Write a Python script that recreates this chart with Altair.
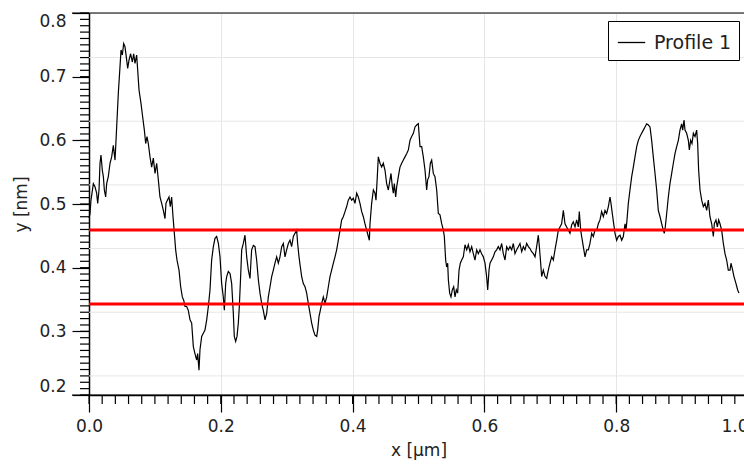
import altair as alt
import pandas as pd

# ---- profile data (x in µm, y in nm) ----
x_um = [0.0, 0.0015, 0.003, 0.0066, 0.0091, 0.0116, 0.0132, 0.0152, 0.0167, 0.0182, 0.0202, 0.0218,
        0.0233, 0.0253, 0.0268, 0.0293, 0.0319, 0.0344, 0.0369, 0.0395, 0.0420, 0.0445, 0.0470, 0.0486,
        0.0506, 0.0526, 0.0546, 0.0572, 0.0587, 0.0607, 0.0632, 0.0658, 0.0678, 0.0698, 0.0723, 0.0739,
        0.0759, 0.0789, 0.0814, 0.0840, 0.0860, 0.0880, 0.0900, 0.0926, 0.0951, 0.0976, 0.1002, 0.1027,
        0.1052, 0.1077, 0.1103, 0.1128, 0.1153, 0.1168, 0.1189, 0.1214, 0.1234, 0.1254, 0.1275, 0.1295,
        0.1315, 0.1335, 0.1366, 0.1391, 0.1416, 0.1437, 0.1457, 0.1482, 0.1507, 0.1533, 0.1558, 0.1583,
        0.1608, 0.1634, 0.1649, 0.1669,
        0.1684, 0.1710, 0.1735, 0.1760, 0.1786, 0.1811, 0.1836, 0.1861, 0.1887, 0.1912, 0.1937, 0.1963,
        0.1988, 0.2013, 0.2038, 0.2054, 0.2074, 0.2089, 0.2114, 0.2140, 0.2165, 0.2190, 0.2205, 0.2226,
        0.2246, 0.2266, 0.2281, 0.2301, 0.2317, 0.2342, 0.2367, 0.2393, 0.2418, 0.2443, 0.2468, 0.2494,
        0.2519, 0.2544, 0.2570, 0.2595, 0.2620, 0.2645, 0.2671, 0.2696, 0.2721, 0.2747, 0.2772, 0.2797,
        0.2822, 0.2848, 0.2873, 0.2898, 0.2924, 0.2949, 0.2974, 0.2999, 0.3025, 0.3050, 0.3075, 0.3101,
        0.3126, 0.3151, 0.3166, 0.3187, 0.3207, 0.3227, 0.3252, 0.3278, 0.3303, 0.3328, 0.3354,
        0.3379, 0.3404, 0.3429, 0.3455, 0.3470, 0.3490, 0.3510, 0.3531, 0.3556, 0.3581, 0.3607, 0.3632,
        0.3657, 0.3682, 0.3708, 0.3733, 0.3758, 0.3783, 0.3809, 0.3834, 0.3859, 0.3885, 0.3910, 0.3935,
        0.3961, 0.3986, 0.4011, 0.4036, 0.4062, 0.4087, 0.4112, 0.4138, 0.4163, 0.4188, 0.4213, 0.4239,
        0.4254, 0.4264, 0.4289, 0.4315, 0.4340, 0.4355, 0.4375, 0.4390, 0.4416, 0.4441, 0.4466, 0.4492,
        0.4517, 0.4542, 0.4567, 0.4583, 0.4603, 0.4618, 0.4633, 0.4654, 0.4669, 0.4694, 0.4719, 0.4745,
        0.4770, 0.4795, 0.4820, 0.4846, 0.4871, 0.4896, 0.4922, 0.4947, 0.4972, 0.4997,
        0.5023, 0.5048, 0.5073, 0.5099, 0.5124, 0.5139, 0.5159, 0.5180, 0.5200, 0.5225, 0.5250, 0.5276,
        0.5301, 0.5326, 0.5352, 0.5377, 0.5392, 0.5412, 0.5427, 0.5443, 0.5453, 0.5473, 0.5493, 0.5513,
        0.5534, 0.5554, 0.5574, 0.5594, 0.5615, 0.5635, 0.5655, 0.5680, 0.5706, 0.5731, 0.5756, 0.5781,
        0.5807, 0.5832, 0.5857, 0.5883, 0.5908, 0.5933, 0.5958, 0.5984, 0.6009, 0.6034, 0.6050, 0.6070,
        0.6085, 0.6110, 0.6135, 0.6161, 0.6186, 0.6211, 0.6237, 0.6262, 0.6287, 0.6313, 0.6338, 0.6363,
        0.6388, 0.6414, 0.6439, 0.6464, 0.6490, 0.6515, 0.6540, 0.6566, 0.6591, 0.6616, 0.6641, 0.6667,
        0.6692, 0.6717, 0.6743, 0.6768, 0.6793, 0.6818, 0.6834, 0.6854, 0.6869, 0.6894, 0.6920, 0.6945,
        0.6970, 0.6995, 0.7021, 0.7046, 0.7071, 0.7097, 0.7122, 0.7147, 0.7172, 0.7198, 0.7223, 0.7248,
        0.7274, 0.7299, 0.7324, 0.7349, 0.7375, 0.7400, 0.7425, 0.7440, 0.7461, 0.7476, 0.7501, 0.7527,
        0.7552, 0.7577, 0.7602, 0.7628, 0.7653, 0.7678, 0.7704, 0.7729, 0.7754, 0.7779, 0.7805, 0.7830,
        0.7855, 0.7881, 0.7906, 0.7921, 0.7941, 0.7962, 0.7982, 0.8007, 0.8032, 0.8058, 0.8083, 0.8108,
        0.8134, 0.8149, 0.8164, 0.8184, 0.8209, 0.8235, 0.8260, 0.8285, 0.8311, 0.8336,
        0.8361, 0.8386, 0.8412, 0.8437, 0.8462, 0.8488, 0.8513, 0.8538, 0.8563, 0.8589, 0.8614, 0.8639,
        0.8665, 0.8690, 0.8715, 0.8730, 0.8745, 0.8766, 0.8791, 0.8816, 0.8842, 0.8867, 0.8892, 0.8918,
        0.8943, 0.8968, 0.8993, 0.9009, 0.9029, 0.9044, 0.9069, 0.9095, 0.9110, 0.9130, 0.9150, 0.9171,
        0.9196, 0.9221, 0.9236, 0.9251, 0.9272, 0.9297, 0.9322, 0.9347, 0.9373, 0.9398, 0.9423, 0.9449,
        0.9474, 0.9489, 0.9514, 0.9535, 0.9555, 0.9575, 0.9600, 0.9626, 0.9651, 0.9676, 0.9701, 0.9727,
        0.9742, 0.9767, 0.9787, 0.9818, 0.9843, 0.9863]

y_nm = [0.478, 0.485, 0.506, 0.532, 0.527, 0.517, 0.501, 0.522, 0.564, 0.577, 0.553, 0.543,
        0.522, 0.511, 0.532, 0.543, 0.564, 0.574, 0.592, 0.569, 0.621, 0.674, 0.715, 0.742,
        0.734, 0.752, 0.747, 0.726, 0.713, 0.726, 0.736, 0.723, 0.736, 0.721, 0.734, 0.710,
        0.679, 0.658, 0.637, 0.616, 0.595, 0.606, 0.595, 0.574, 0.558, 0.572, 0.548, 0.564,
        0.538, 0.511, 0.501, 0.490, 0.477, 0.501, 0.506, 0.511, 0.496, 0.511, 0.480, 0.454,
        0.428, 0.412, 0.396, 0.370, 0.354, 0.349, 0.339, 0.339, 0.333, 0.318, 0.313, 0.276,
        0.265, 0.255, 0.265, 0.239,
        0.271, 0.292, 0.297, 0.302, 0.318, 0.339, 0.365, 0.412, 0.433, 0.446, 0.449, 0.438,
        0.417, 0.375, 0.354, 0.333, 0.375, 0.386, 0.394, 0.391, 0.375, 0.328, 0.292, 0.284,
        0.292, 0.313, 0.339, 0.386, 0.428, 0.438, 0.451, 0.417, 0.396, 0.383, 0.428, 0.435,
        0.433, 0.412, 0.381, 0.360, 0.344, 0.333, 0.318, 0.328, 0.354, 0.370, 0.386, 0.396,
        0.407, 0.417, 0.407, 0.417, 0.433, 0.438, 0.417, 0.428, 0.438, 0.443, 0.433, 0.449,
        0.454, 0.459, 0.438, 0.417, 0.401, 0.386, 0.375, 0.370, 0.360, 0.344, 0.328,
        0.313, 0.302, 0.294, 0.292, 0.302, 0.323, 0.333, 0.344, 0.354, 0.344, 0.354, 0.370,
        0.386, 0.396, 0.407, 0.417, 0.428, 0.443, 0.459, 0.475, 0.480, 0.488, 0.496, 0.506,
        0.511, 0.506, 0.509, 0.501, 0.517, 0.511, 0.501, 0.488, 0.480, 0.469, 0.459, 0.449,
        0.443, 0.469, 0.501, 0.522, 0.517, 0.506, 0.543, 0.574, 0.564, 0.558, 0.564, 0.553,
        0.532, 0.522, 0.538, 0.548, 0.527, 0.517, 0.532, 0.511, 0.527, 0.543, 0.558, 0.564,
        0.569, 0.574, 0.579, 0.585, 0.600, 0.606, 0.611, 0.621, 0.624, 0.626,
        0.590, 0.590, 0.574, 0.553, 0.522, 0.538, 0.543, 0.564, 0.569, 0.548, 0.543, 0.522,
        0.485, 0.483, 0.469, 0.459, 0.449, 0.412, 0.401, 0.407, 0.381, 0.360, 0.354, 0.365,
        0.370, 0.354, 0.365, 0.360, 0.396, 0.407, 0.412, 0.417, 0.436, 0.428, 0.436, 0.425,
        0.433, 0.422, 0.412, 0.428, 0.422, 0.428, 0.422, 0.417, 0.407, 0.386, 0.365, 0.396,
        0.407, 0.412, 0.417, 0.425, 0.428, 0.433, 0.428, 0.438, 0.422, 0.412, 0.433, 0.428,
        0.433, 0.428, 0.438, 0.422, 0.428, 0.433, 0.438, 0.425, 0.433, 0.428, 0.438, 0.433,
        0.430, 0.425, 0.422, 0.417, 0.433, 0.451, 0.433, 0.407, 0.386, 0.396, 0.386, 0.383,
        0.396, 0.407, 0.417, 0.412, 0.428, 0.443, 0.459, 0.464, 0.469, 0.490, 0.469, 0.464,
        0.459, 0.454, 0.467, 0.472, 0.464, 0.475, 0.464, 0.488, 0.459, 0.449, 0.433, 0.417,
        0.428, 0.428, 0.438, 0.454, 0.449, 0.459, 0.459, 0.469, 0.475, 0.488, 0.480, 0.490,
        0.485, 0.496, 0.511, 0.501, 0.485, 0.469, 0.454, 0.443, 0.449, 0.451, 0.443, 0.449,
        0.469, 0.459, 0.475, 0.501, 0.522, 0.543, 0.558, 0.574, 0.590, 0.600,
        0.606, 0.611, 0.616, 0.621, 0.626, 0.624, 0.621, 0.600, 0.574, 0.548, 0.522, 0.490,
        0.480, 0.469, 0.459, 0.454, 0.464, 0.485, 0.511, 0.532, 0.548, 0.564, 0.579, 0.590,
        0.600, 0.616, 0.626, 0.616, 0.632, 0.616, 0.611, 0.600, 0.585, 0.600, 0.595, 0.611,
        0.606, 0.616, 0.595, 0.553, 0.522, 0.506, 0.496, 0.501, 0.490, 0.506, 0.480, 0.469,
        0.449, 0.469, 0.475, 0.464, 0.475, 0.469, 0.459, 0.438, 0.422, 0.412, 0.396, 0.396,
        0.407, 0.396, 0.386, 0.375, 0.365, 0.360]

series_name = ["Profile 1"]
ref_levels = [0.459, 0.343]          # the two red horizontal markers (nm)

x_major = [0.0, 0.2, 0.4, 0.6, 0.8, 1.0]
x_minor = [round(i / 50, 2) for i in range(50)]
y_major = [0.2, 0.3, 0.4, 0.5, 0.6, 0.7, 0.8]
y_minor = [round(0.2 + i / 100, 2) for i in range(61)]
y_grid = [0.23, 0.33, 0.43, 0.53, 0.63, 0.73]
frame_levels = [0.2, 0.8]           # bottom and top frame lines

PLOT_W, PLOT_H = 659, 382

df = pd.DataFrame({"x": x_um, "y": y_nm, "series": series_name * len(x_um)})
df_ref = pd.DataFrame({"level": ref_levels})
df_xminor = pd.DataFrame({"xm": x_minor})
df_yminor = pd.DataFrame({"ym": y_minor})
df_grid = pd.DataFrame({"gy": y_grid})
df_frame = pd.DataFrame({"fy": frame_levels})

FONT = "DejaVu Sans"
TXT = "#222222"
GRID = "#e6e6e6"

xs = alt.Scale(domain=[0.0, 1.0], nice=False, zero=False)
ys = alt.Scale(domain=[0.2, 0.8], nice=False, zero=False)

x_main_axis = alt.Axis(
    orient="bottom", values=x_major, format=".1f", tickSize=17, tickWidth=1.2,
    tickColor="#000000", domainColor="#000000", domainWidth=1.5,
    labelFont=FONT, labelFontSize=17, labelColor=TXT, labelPadding=6,
    labelAlign={"condition": {"test": "datum.value >= 0.99", "value": "right"}, "value": "center"},
    grid=True, gridColor=GRID, gridWidth=1,
    title="x [µm]", titleFont=FONT, titleFontSize=17, titleFontWeight="normal",
    titleColor=TXT, titlePadding=8,
)
y_main_axis = alt.Axis(
    orient="left", values=y_major, format=".1f", tickSize=17, tickWidth=1.2,
    tickColor="#000000", domainColor="#000000", domainWidth=1.5,
    labelFont=FONT, labelFontSize=17, labelColor=TXT, labelPadding=6, labelFlush=True,
    grid=False,
    title="y [nm]", titleFont=FONT, titleFontSize=17, titleFontWeight="normal",
    titleColor=TXT, titlePadding=8,
)

# horizontal grid lines (offset from the labelled ticks, as in the source)
grid_rules = alt.Chart(df_grid).mark_rule(color=GRID, strokeWidth=1).encode(
    y=alt.Y("gy:Q", scale=ys, axis=None),
)

profile = alt.Chart(df).mark_line(strokeWidth=1.2).encode(
    x=alt.X("x:Q", scale=xs, axis=x_main_axis),
    y=alt.Y("y:Q", scale=ys, axis=y_main_axis),
    color=alt.Color(
        "series:N",
        scale=alt.Scale(range=["#000000"]),
        legend=alt.Legend(
            title=None, orient="none", legendX=519, legendY=8,
            strokeColor="#000000", fillColor="#ffffff", padding=7, cornerRadius=0,
            symbolType="stroke", symbolSize=750, symbolStrokeWidth=1.3, symbolOffset=2,
            labelFont=FONT, labelFontSize=19, labelColor=TXT, labelOffset=8,
        ),
    ),
)

rules = alt.Chart(df_ref).mark_rule(color="#ff0000", strokeWidth=3).encode(
    y=alt.Y("level:Q", scale=ys, axis=None),
)

frame = alt.Chart(df_frame).mark_rule(color="#000000", strokeWidth=1.2).encode(
    y=alt.Y("fy:Q", scale=ys, axis=None),
    x=alt.value(-17),
    x2=alt.value(PLOT_W),
)

# minor tick combs along both axes (positions from the scales)
x_minor_ticks = alt.Chart(df_xminor).mark_rule(color="#000000", strokeWidth=1.2).encode(
    x=alt.X("xm:Q", scale=xs, axis=None),
    y=alt.value(PLOT_H),
    y2=alt.value(PLOT_H + 9),
)
y_minor_ticks = alt.Chart(df_yminor).mark_rule(color="#000000", strokeWidth=1.2).encode(
    y=alt.Y("ym:Q", scale=ys, axis=None),
    x=alt.value(-9),
    x2=alt.value(0),
)

chart = (
    alt.layer(grid_rules, profile, rules, frame, x_minor_ticks, y_minor_ticks)
    .resolve_axis(x="independent", y="independent")
    .properties(
        width=PLOT_W, height=PLOT_H,
        autosize=alt.AutoSizeParams(type="none"),
        padding={"left": 89, "top": 13, "right": -4, "bottom": 73},
        background="#ffffff",
    )
)

chart.save("out.html", embed_options={"renderer": "svg", "actions": False})
